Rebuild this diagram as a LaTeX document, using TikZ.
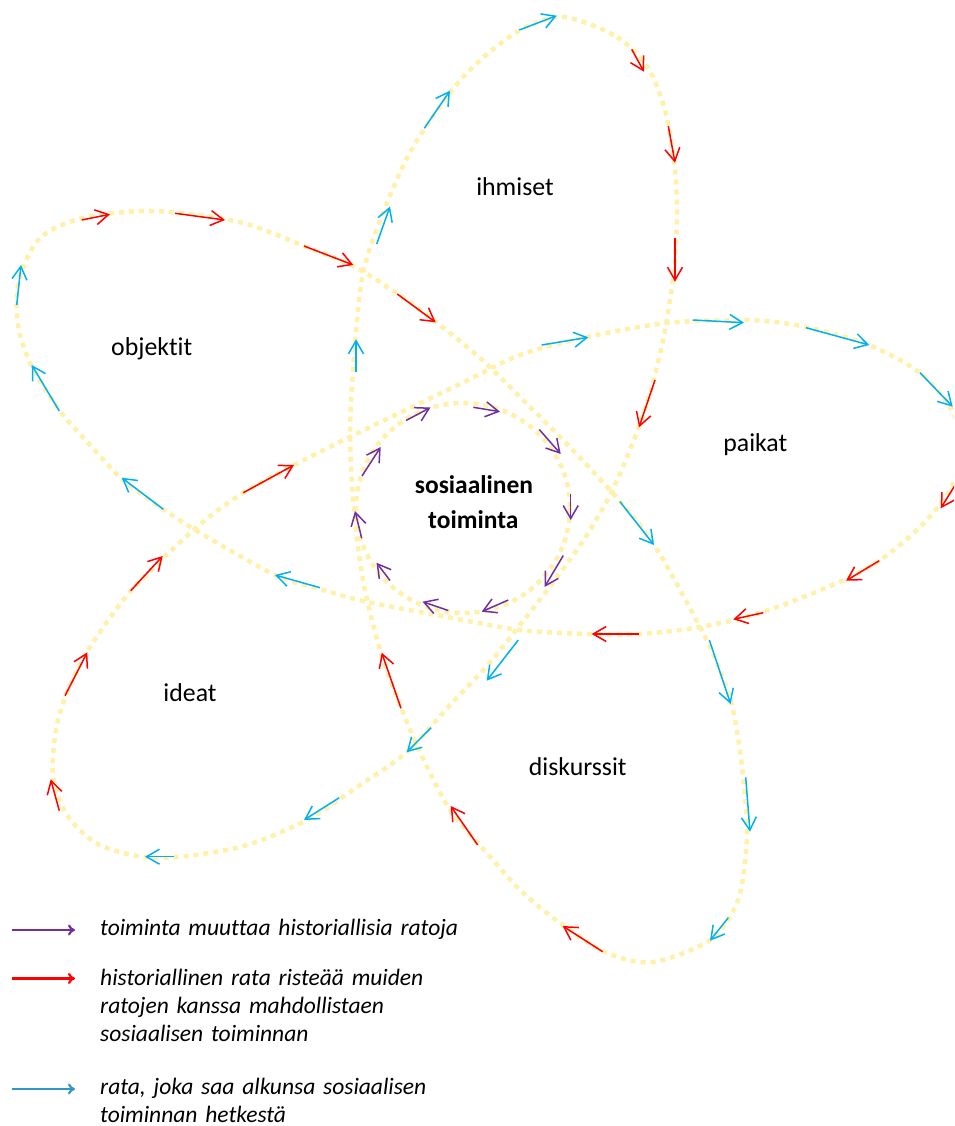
\documentclass[tikz,border=0pt]{standalone}
\usepackage{fontspec}
\setmainfont{Carlito}[Ligatures=NoCommon]
\usetikzlibrary{arrows.meta}
\definecolor{petal}{RGB}{255,240,170}
\definecolor{cblue}{RGB}{0,176,240}
\definecolor{cred}{RGB}{255,0,0}
\definecolor{cpurple}{RGB}{112,48,160}
\definecolor{legblue}{RGB}{49,152,196}
\definecolor{legpurple}{RGB}{112,48,160}
\tikzset{
  orbit/.style={draw=petal, line width=4.5pt, dash pattern=on 5pt off 5pt},
  flow/.style={line width=1.5pt, -{Straight Barb[length=13pt,width=15pt]}},
  bflow/.style={flow, draw=cblue},
  rflow/.style={flow, draw=cred},
  pflow/.style={flow, draw=cpurple},
  lbl/.style={font=\fontsize{25.8}{30}\selectfont, inner sep=0pt, anchor=base},
  ctrlbl/.style={lbl, font=\fontsize{25.5}{30}\selectfont\bfseries},
  legtext/.style={font=\fontsize{23.5}{28.3}\selectfont\itshape, text width=420pt, align=left, inner sep=0pt, anchor=base west},
  legarrow/.style={line width=2.2pt, -{To[length=7pt,width=11pt]}}
}
\begin{document}
\begin{tikzpicture}[x=1pt,y=-1pt]
\path[use as bounding box] (0,0) rectangle (954,1126);
\begin{scope}
\clip (0,0) rectangle (954,1126);
% the single looping trajectory
\draw[orbit] plot[smooth cycle] coordinates {
(563,17) (617,37) (648,68) (665,110) (674,160) (677,210) (675,260) (670,300)
(662,345) (648,400) (630,450) (610,495) (585,538) (555,580) (520,625) (488,665)
(450,705) (407,752) (360,785) (307,820) (240,847) (157,858) (100,845) (67,815)
(53,775) (56,730) (66,695) (87,652) (130,592) (197,527) (243,493) (300,462)
(360,432) (460,384) (520,355) (587,337) (667,323) (750,320) (806,327) (869,345)
(920,373) (952,410) (962,450) (950,490) (920,527) (880,560) (837,583) (763,612)
(700,627) (640,634) (587,634) (520,630) (447,617) (363,601) (320,589) (275,575)
(197,531) (163,509) (123,480) (90,445) (60,411) (32,367) (18,325) (19,280)
(40,238) (82,218) (143,211) (200,215) (250,225) (304,246) (353,266) (398,294)
(436,322) (480,358) (520,397) (563,440) (610,490) (653,543) (700,627) (720,670)
(733,710) (742,767) (747,835) (738,900) (710,940) (653,962) (607,953) (560,923)
(520,890) (487,853) (450,810) (420,752) (400,705) (380,650) (363,580) (354,510)
(350,430) (355,345) (363,273) (383,213) (413,147) (463,77) (517,32)
};
% centre circle
\draw[orbit] (463,508) ellipse [x radius=107, y radius=105];

% blue arrows
\draw[bflow] (519.3,30) -- (556.7,15.7);
\draw[bflow] (424.3,128.3) -- (450,90.7);
\draw[bflow] (376.7,244) -- (390,206.5);
\draw[bflow] (356,371.7) -- (356,339.3);
\draw[bflow] (541.7,345) -- (588.3,337.3);
\draw[bflow] (692.7,320) -- (744,322.7);
\draw[bflow] (806,327.7) -- (869.3,345);
\draw[bflow] (920,372.7) -- (952.7,406.7);
\draw[bflow] (620,501.7) -- (654,545);
\draw[bflow] (709.3,640) -- (730.7,704);
\draw[bflow] (745.7,777.3) -- (750,831.7);
\draw[bflow] (728.3,917.7) -- (710,940.7);
\draw[bflow] (518.3,640) -- (486.7,680.7);
\draw[bflow] (431,727.7) -- (406.7,752.3);
\draw[bflow] (339.3,797.7) -- (304,820);
\draw[bflow] (174,856.7) -- (145,856.7);
\draw[bflow] (320,587.7) -- (275,575);
\draw[bflow] (163.3,509.3) -- (121.7,477.7);
\draw[bflow] (59.3,411) -- (31.7,365);
\draw[bflow] (16.7,305) -- (21,265);

% red arrows
\draw[rflow] (631.7,49.3) -- (644,71.7);
\draw[rflow] (668.3,126) -- (675,162.7);
\draw[rflow] (675,237.7) -- (675,281.7);
\draw[rflow] (655,380) -- (639,427.3);
\draw[rflow] (962,474) -- (940.7,508.3);
\draw[rflow] (879.3,560.7) -- (846,580.7);
\draw[rflow] (763.3,612.7) -- (733.3,619.3);
\draw[rflow] (639.3,634) -- (591.7,634);
\draw[rflow] (602.7,951.7) -- (562.7,926);
\draw[rflow] (477.7,845) -- (450.7,806);
\draw[rflow] (401,708.3) -- (381.7,652.7);
\draw[rflow] (59.3,810.7) -- (50.7,779.3);
\draw[rflow] (65,695.7) -- (87.3,652.3);
\draw[rflow] (130.7,590.7) -- (162.7,556);
\draw[rflow] (243.3,492.7) -- (294,465);
\draw[rflow] (81.7,220) -- (110,214.3);
\draw[rflow] (175,213.3) -- (225,220);
\draw[rflow] (304,246) -- (353.3,265);
\draw[rflow] (397.3,294) -- (435.7,322.3);

% purple arrows
\draw[pflow] (406,420.5) -- (430.5,407.5);
\draw[pflow] (473.3,407.3) -- (500,411.7);
\draw[pflow] (539.3,429.5) -- (560.7,454);
\draw[pflow] (570.7,494) -- (570.7,520);
\draw[pflow] (563.3,555.5) -- (544.5,587);
\draw[pflow] (508.3,600) -- (481.7,611.7);
\draw[pflow] (448.3,610.5) -- (422.5,601.7);
\draw[pflow] (390,580.5) -- (376.5,562.7);
\draw[pflow] (361.7,538.3) -- (355,511);
\draw[pflow] (362,476) -- (380.7,447);
\end{scope}

% labels
\node[lbl] (ihmiset) at (515,195) {ihmiset};
\node[lbl] (objektit) at (151.7,355) {objektit};
\node[lbl] (paikat) at (755.3,451.7) {paikat};
\node[lbl] (ideat) at (190,701.7) {ideat};
\node[lbl] (diskurssit) at (577.7,775.7) {diskurssit};
\node[ctrlbl] (centre1) at (474,493.3) {sosiaalinen};
\node[ctrlbl] (centre2) at (473.3,528.3) {toiminta};

% legend
\coordinate (la1) at (12,930);   \coordinate (lb1) at (75,930);
\coordinate (la2) at (12,978.5); \coordinate (lb2) at (75,978.5);
\coordinate (la3) at (12,1089);  \coordinate (lb3) at (75,1089);
\draw[legarrow, draw=legpurple] (la1) -- (lb1);
\draw[legarrow, draw=cred] (la2) -- (lb2);
\draw[legarrow, draw=legblue] (la3) -- (lb3);
\node[legtext] (leg1) at (100,935) {toiminta muuttaa historiallisia ratoja};
\node[legtext] (leg2) at (100,985) {historiallinen rata risteää muiden\\ratojen kanssa mahdollistaen\\sosiaalisen toiminnan};
\node[legtext] (leg3) at (100,1094) {rata, joka saa alkunsa sosiaalisen\\toiminnan hetkestä};
\end{tikzpicture}
\end{document}
